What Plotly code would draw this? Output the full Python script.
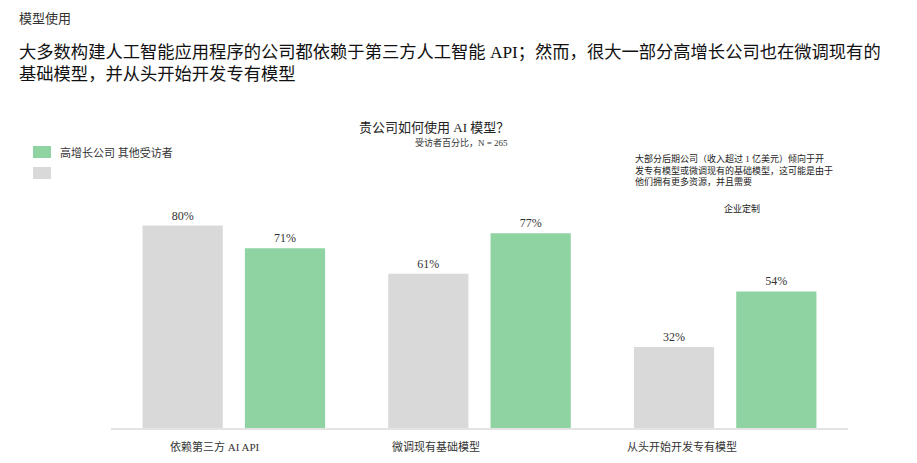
import plotly.graph_objects as go

categories = ["依赖第三方 AI API", "微调现有基础模型", "从头开始开发专有模型"]
other_respondents = [80, 61, 32]
high_growth = [71, 77, 54]
series_names = ["其他受访者", "高增长公司"]
legend_text = "高增长公司 其他受访者"

kicker = "模型使用"
headline = ("大多数构建人工智能应用程序的公司都依赖于第三方人工智能 API；然而，很大一部分高增长公司也在微调现有的"
            "<br>基础模型，并从头开始开发专有模型")
chart_title = "贵公司如何使用 AI 模型？"
chart_subtitle = "受访者百分比，N = 265"
note_lines = ["大部分后期公司（收入超过 1 亿美元）倾向于开",
              "发专有模型或微调现有的基础模型，这可能是由于",
              "他们拥有更多资源，并且需要"]
note_tail = "企业定制"

GRAY = "#D9D9D9"
GREEN = "#8FD3A3"
FONT = "Liberation Serif, Noto Sans CJK SC, serif"

W, H = 917, 463
L, R, T, B = 111, 69, 175, 35
PW, PH = W - L - R, H - T - B
# horizontal offset of each category label's left edge from the category centre (px)
label_shifts = [-66, -90, -100]


def px(x):
    return (x - L) / PW


def py(y):
    return (H - B - y) / PH


fig = go.Figure()
fig.add_trace(go.Bar(
    x=categories, y=other_respondents, name=series_names[0],
    marker=dict(color=GRAY, line=dict(width=0)),
    text=[f"{v}%" for v in other_respondents], textposition="outside",
    textfont=dict(size=12, color="#333333", family=FONT),
    cliponaxis=False, showlegend=False,
))
fig.add_trace(go.Bar(
    x=categories, y=high_growth, name=series_names[1],
    marker=dict(color=GREEN, line=dict(width=0)),
    text=[f"{v}%" for v in high_growth], textposition="outside",
    textfont=dict(size=12, color="#333333", family=FONT),
    cliponaxis=False, showlegend=False,
))

annotations = [
    dict(text=kicker, x=px(17), y=py(18), xanchor="left", yanchor="middle",
         font=dict(size=13, color="#333333")),
    dict(text=headline, x=px(17), y=py(41), xanchor="left", yanchor="top", align="left",
         font=dict(size=17.3, color="#111111")),
    dict(text=chart_title, x=px(434), y=py(127), xanchor="center", yanchor="middle",
         font=dict(size=13, color="#222222")),
    dict(text=chart_subtitle, x=px(510), y=py(142), xanchor="right", yanchor="middle",
         font=dict(size=9, color="#333333")),
    dict(text=legend_text, x=px(58), y=py(152), xanchor="left", yanchor="middle",
         font=dict(size=11, color="#333333")),
    dict(text="<br>".join(note_lines), x=px(633), y=py(151), xanchor="left", yanchor="top",
         align="left", font=dict(size=9, color="#222222")),
    dict(text=note_tail, x=px(742), y=py(208), xanchor="center", yanchor="middle",
         font=dict(size=9, color="#222222")),
]
for a in annotations:
    a.update(xref="paper", yref="paper", showarrow=False)

for cat, shift in zip(categories, label_shifts):
    annotations.append(dict(
        text=cat, x=cat, xref="x", y=0, yref="paper", xanchor="left", yanchor="top",
        xshift=shift, yshift=-10, showarrow=False,
        font=dict(size=11, color="#333333"),
    ))

shapes = [
    dict(type="rect", xref="paper", yref="paper", x0=px(33), x1=px(51), y0=py(146), y1=py(158),
         fillcolor=GREEN, line=dict(width=0)),
    dict(type="rect", xref="paper", yref="paper", x0=px(33), x1=px(51), y0=py(167), y1=py(179),
         fillcolor=GRAY, line=dict(width=0)),
]

fig.update_layout(
    width=W, height=H,
    margin=dict(l=L, r=R, t=T, b=B),
    paper_bgcolor="white", plot_bgcolor="white",
    font=dict(family=FONT, color="#333333"),
    barmode="group", bargap=0.167, bargroupgap=0.216,
    showlegend=False,
    annotations=annotations, shapes=shapes,
    xaxis=dict(showline=True, linecolor="#E3E3E3", linewidth=1.5, ticks="",
               showticklabels=False, showgrid=False),
    yaxis=dict(range=[0, 100], visible=False, showgrid=False, zeroline=False),
)

fig.write_html("out.html")
